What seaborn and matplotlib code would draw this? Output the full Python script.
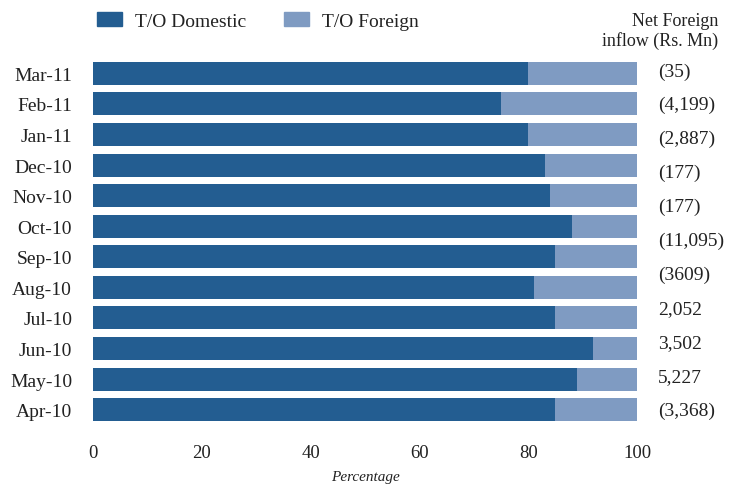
import numpy as np
import pandas as pd
import matplotlib
matplotlib.use("Agg")
import matplotlib.pyplot as plt
import matplotlib.transforms as mtransforms
from matplotlib.patches import Patch
import seaborn as sns

months = ["Mar-11", "Feb-11", "Jan-11", "Dec-10", "Nov-10", "Oct-10",
          "Sep-10", "Aug-10", "Jul-10", "Jun-10", "May-10", "Apr-10"]
domestic = [80, 75, 80, 83, 84, 88, 85, 81, 85, 92, 89, 85]
foreign = [20, 25, 20, 17, 16, 12, 15, 19, 15, 8, 11, 15]
inflow_labels = ["(35)", "(4,199)", "(2,887)", "(177)", "(177)", "(11,095)",
                 "(3609)", "2,052", "3,502", "5,227", "(3,368)"]
x_ticks = [0, 20, 40, 60, 80, 100]

sns.set_style("white")
plt.rcParams["font.family"] = ["Liberation Serif", "DejaVu Serif"]

dom_color = "#235d91"
for_color = "#7f9bc2"

df = pd.DataFrame({"month": months, "domestic": domestic, "foreign": foreign})
df["total"] = df["domestic"] + df["foreign"]

fig = plt.figure(figsize=(7.34, 4.85), dpi=100)
ax = fig.add_axes([93 / 734, 1 - 426 / 485, (637 - 93) / 734, (426 - 59) / 485])

sns.barplot(data=df, y="month", x="total", color=for_color, orient="h",
            width=0.75, ax=ax, saturation=1, linewidth=0)
sns.barplot(data=df, y="month", x="domestic", color=dom_color, orient="h",
            width=0.75, ax=ax, saturation=1, linewidth=0)

ax.set_xlim(0, 100)
ax.set_ylim(11.5, -0.5)
ax.set_xticks(x_ticks)
ax.set_xticklabels([str(t) for t in x_ticks], fontsize=13.5, color="#222222")
ax.tick_params(axis="y", labelsize=14, colors="#222222", length=0, pad=15)
ax.tick_params(axis="x", length=0, pad=14)
ax.set_ylabel("")
ax.set_xlabel("Percentage", fontsize=11, style="italic", color="#222222", labelpad=6)
for s in ax.spines.values():
    s.set_visible(False)

trans = mtransforms.blended_transform_factory(ax.transAxes, ax.transData)
ypos = np.linspace(-0.08, 11.02, len(inflow_labels))
for y, lab in zip(ypos, inflow_labels):
    ax.text(1.0386, y, lab, transform=trans, fontsize=14, color="#222222",
            va="center", ha="left")

fig.text(718 / 734, 1 - 21 / 485, "Net Foreign", fontsize=13, color="#222222",
         ha="right", va="center")
fig.text(718 / 734, 1 - 41 / 485, "inflow (Rs. Mn)", fontsize=13, color="#222222",
         ha="right", va="center")

handles = [Patch(color=dom_color, label="T/O Domestic"),
           Patch(color=for_color, label="T/O Foreign")]
fig.legend(handles=handles, loc="center left", bbox_to_anchor=(97 / 734, 1 - 22 / 485),
           ncol=2, frameon=False, fontsize=14, handlelength=1.3, handleheight=0.7,
           columnspacing=1.95, handletextpad=0.65, labelcolor="#222222",
           borderpad=0, borderaxespad=0)

fig.savefig("out.png", dpi=100)
